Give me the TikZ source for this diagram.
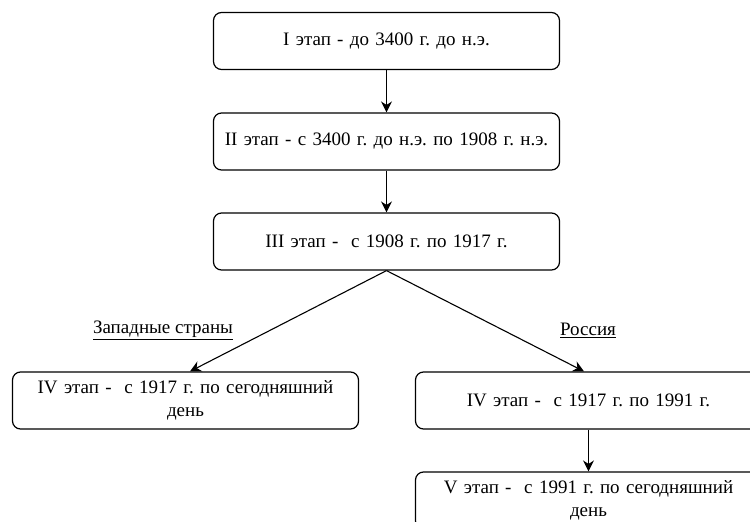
\documentclass[tikz,border=0pt]{standalone}
\usepackage{fontspec}
\setmainfont{Liberation Serif}
\frenchspacing
\usetikzlibrary{arrows.meta,calc}
\begin{document}
\begin{tikzpicture}[x=1pt,y=-1pt,
  stagebox/.style={draw=black,line width=1.2pt,rounded corners=8pt,minimum width=346pt,minimum height=57pt,inner sep=0pt,align=center,font=\fontsize{19}{23}\selectfont,text width=340pt},
  conn/.style={line width=1.1pt,-{Stealth[length=11pt,width=11pt]}},
  lbl/.style={font=\fontsize{19}{20}\selectfont,inner sep=0pt}]
\clip (0,0) rectangle (750,522);
\node[stagebox] (s1) at (386.5,41) {I этап - до 3400 г. до н.э.};
\node[stagebox] (s2) at (386.5,141.5) {II этап - с 3400 г. до н.э. по 1908 г. н.э.};
\node[stagebox] (s3) at (386.5,241.5) {III этап -\ \ с 1908 г. по 1917 г.};
\node[stagebox] (w4) at (185.5,400.5) {IV этап -\ \ с 1917 г. по сегодняшний\\день};
\node[stagebox] (r4) at (588.5,400.5) {IV этап -\ \ с 1917 г. по 1991 г.};
\node[stagebox] (r5) at (588.5,500.5) {V этап -\ \ с 1991 г. по сегодняшний\\день};
\node[lbl] (lw) at (163,330) {\underline{Западные страны}};
\node[lbl] (lr) at (588,330) {\underline{Россия}};
\draw[conn] (s1) -- (s2);
\draw[conn] (s2) -- (s3);
\draw[conn] (s3.south) -- ($(w4.north)+(4.5,0)$);
\draw[conn] (s3.south) -- ($(r4.north)+(-4.5,0)$);
\draw[conn] (r4) -- (r5);
\end{tikzpicture}
\end{document}
